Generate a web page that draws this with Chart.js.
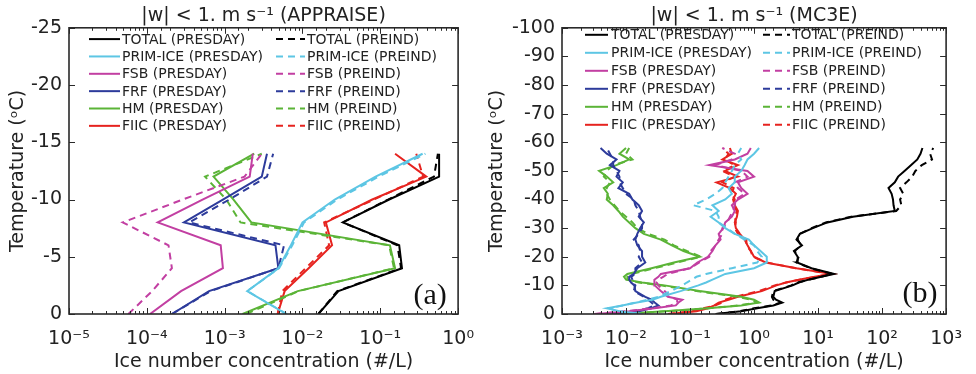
<!DOCTYPE html>
<html>
<head>
<meta charset="utf-8">
<script src="https://cdn.jsdelivr.net/npm/chart.js@4.4.1/dist/chart.umd.min.js"></script>
<style>
html, body { margin: 0; padding: 0; background: #ffffff; }
#page { position: relative; width: 976px; height: 374px; overflow: hidden; }
canvas { position: absolute; top: 0; }
#chartA { left: 0; }
#chartB { left: 488px; }
</style>
</head>
<body>
<div id="page">
  <canvas id="chartA" width="488" height="374"></canvas>
  <canvas id="chartB" width="488" height="374"></canvas>
</div>
<script>
const FONT = '"DejaVu Sans", sans-serif';
const INK = '#222222';

// ---- APPRAISE: ice number concentration (#/L) by temperature level (°C) ----
const apprTemps = [0, -2, -4, -6, -8, -10, -12, -14];
const apprTotalPresday   = [1.6e-2, 2.9e-2, 0.19, 0.175, 3.3e-2, 0.13, 0.57, 0.57];
const apprTotalPreind    = [1.6e-2, 2.8e-2, 0.185, 0.166, 3.3e-2, 0.126, 0.49, 0.55];
const apprPrimIcePresday = [6.2e-3, 1.95e-3, 4.9e-3, 7.1e-3, 1.0e-2, 2.6e-2, 8.7e-2, 0.35];
const apprPrimIcePreind  = [6.3e-3, 1.95e-3, 5.0e-3, 7.4e-3, 1.05e-2, 2.8e-2, 9.5e-2, 0.38];
const apprFsbPresday     = [1.1e-4, 2.75e-4, 9.5e-4, 8.9e-4, 1.38e-4, 5.2e-4, 2.1e-3, 2.3e-3];
const apprFsbPreind      = [5.8e-5, 1.17e-4, 2.1e-4, 1.9e-4, 4.9e-5, 2.9e-4, 1.8e-3, 3.0e-3];
const apprFrfPresday     = [2.1e-4, 6.3e-4, 4.9e-3, 4.5e-3, 3.0e-4, 9.5e-4, 3.0e-3, 3.5e-3];
const apprFrfPreind      = [2.1e-4, 6.6e-4, 4.9e-3, 5.8e-3, 3.5e-4, 1.15e-3, 3.5e-3, 4.2e-3];
const apprHmPresday      = [1.7e-3, 8.7e-3, 0.155, 0.133, 2.2e-3, 1.3e-3, 7.2e-4, 2.4e-3];
const apprHmPreind       = [1.9e-3, 8.9e-3, 0.15, 0.13, 1.6e-3, 1.05e-3, 5.6e-4, 3.0e-3];
const apprFiicPresday    = [4.8e-3, 5.9e-3, 1.2e-2, 2.4e-2, 2.0e-2, 7.9e-2, 0.39, 0.155];
const apprFiicPreind     = [4.8e-3, 5.5e-3, 1.1e-2, 2.2e-2, 1.9e-2, 8.3e-2, 0.355, 0.29];

// ---- MC3E: ice number concentration (#/L) by temperature level (°C) ----
const mc3eTemps = [0, -1, -2, -3, -4, -5, -6, -8, -10, -11, -12, -13, -14, -16, -18, -20, -22, -24, -26, -28,
                   -30, -32, -34, -36, -38, -40, -42, -44, -46, -48, -50, -52, -54, -56, -58];
const mc3eTotalPresday   = [0.25, 0.63, 1.12, 2.0, 2.75, 2.2, 2.0, 2.1, 4.0, 5.0, 7.1, 11.2, 17.8, 7.9, 4.7, 4.8, 4.2, 5.6, 4.6, 5.2,
                            8.3, 14, 35, 158, 151, 148, 141, 126, 158, 178, 224, 282, 355, 398, 427];
const mc3eTotalPreind    = [0.26, 0.6, 1.0, 1.9, 2.6, 2.0, 1.9, 2.0, 3.8, 4.8, 7.1, 11.2, 16.6, 7.6, 4.6, 5.0, 4.3, 5.4, 4.8, 5.2,
                            7.9, 13.2, 33, 166, 200, 191, 214, 191, 240, 295, 331, 417, 603, 562, 631];
const mc3ePrimIcePresday = [0.0178, 0.0079, 0.005, 0.0087, 0.0148, 0.026, 0.035, 0.071, 0.135, 0.178, 0.224, 0.28, 0.355, 1.0, 1.58, 1.58, 1.26, 1.0, 0.83, 0.5,
                            0.355, 0.28, 0.21, 0.28, 0.224, 0.355, 0.45, 0.4, 0.5, 0.5, 0.63, 0.71, 0.79, 1.0, 1.2];
const mc3ePrimIcePreind  = [0.0158, 0.0071, 0.0056, 0.0089, 0.014, 0.022, 0.032, 0.05, 0.076, 0.089, 0.107, 0.126, 0.178, 0.45, 1.12, 1.32, 1.12, 1.0, 0.71, 0.5,
                            0.38, 0.28, 0.28, 0.25, 0.112, 0.178, 0.25, 0.32, 0.355, 0.4, 0.45, 0.5, 0.63, 0.56, 0.63];
const mc3eFsbPresday     = [0.0035, 0.0112, 0.028, 0.06, 0.066, 0.076, 0.045, 0.035, 0.028, 0.0275, 0.028, 0.032, 0.035, 0.1, 0.13, 0.19, 0.224, 0.25, 0.3, 0.28,
                            0.33, 0.355, 0.45, 0.5, 0.45, 0.56, 0.79, 0.63, 0.56, 1.0, 0.79, 0.2, 0.5, 0.79, 0.89];
const mc3eFsbPreind      = [0.0032, 0.01, 0.025, 0.05, 0.063, 0.063, 0.05, 0.04, 0.032, 0.03, 0.032, 0.038, 0.045, 0.1, 0.14, 0.2, 0.21, 0.25, 0.28, 0.32,
                            0.32, 0.38, 0.42, 0.47, 0.5, 0.52, 0.71, 0.56, 0.5, 0.79, 0.63, 0.25, 0.45, 0.5, 0.32];
const mc3eFrfPresday     = [0.0063, 0.0158, 0.025, 0.032, 0.028, 0.025, 0.02, 0.014, 0.0135, 0.012, 0.0112, 0.0112, 0.0132, 0.015, 0.02, 0.0178, 0.0178, 0.015, 0.014, 0.015,
                            0.0166, 0.019, 0.0158, 0.0178, 0.0158, 0.0126, 0.0112, 0.0076, 0.0089, 0.0071, 0.0079, 0.0056, 0.0071, 0.005, 0.004];
const mc3eFrfPreind      = [0.0056, 0.014, 0.022, 0.028, 0.025, 0.022, 0.019, 0.0132, 0.014, 0.0126, 0.0126, 0.012, 0.014, 0.014, 0.0178, 0.0158, 0.0166, 0.0158, 0.0132, 0.0158,
                            0.0178, 0.0178, 0.0166, 0.0158, 0.014, 0.0132, 0.01, 0.0089, 0.0079, 0.0079, 0.0071, 0.0063, 0.0063, 0.0056, 0.005];
const mc3eHmPresday      = [0.0079, 0.04, 0.19, 0.63, 1.2, 1.0, 0.63, 0.141, 0.04, 0.0178, 0.01, 0.0093, 0.0105, 0.025, 0.056, 0.141, 0.079, 0.052, 0.035, 0.019,
                            0.014, 0.0112, 0.0089, 0.0076, 0.0063, 0.005, 0.0052, 0.0045, 0.0063, 0.005, 0.0038, 0.0071, 0.0112, 0.0079, 0.01];
const mc3eHmPreind       = [0.0089, 0.045, 0.2, 0.56, 1.12, 0.89, 0.56, 0.126, 0.035, 0.0158, 0.0105, 0.0105, 0.0126, 0.028, 0.063, 0.15, 0.089, 0.056, 0.04, 0.022,
                            0.015, 0.0126, 0.01, 0.0079, 0.0066, 0.0056, 0.005, 0.005, 0.0056, 0.0045, 0.005, 0.0063, 0.0126, 0.01, 0.0112];
const mc3eFiicPresday    = [0.047, 0.126, 0.19, 0.24, 0.28, 0.40, 0.56, 1.32, 2.24, 3.16, 5.0, 8.9, 16.6, 4.6, 1.51, 1.0, 0.89, 0.79, 0.71, 0.60,
                            0.52, 0.50, 0.54, 0.56, 0.50, 0.47, 0.52, 0.42, 0.26, 0.56, 0.35, 0.56, 0.32, 0.45, 0.42];
const mc3eFiicPreind     = [0.045, 0.11, 0.16, 0.25, 0.32, 0.35, 0.50, 1.2, 2.1, 3.16, 5.2, 8.9, 15.8, 4.5, 1.58, 0.95, 0.89, 0.76, 0.76, 0.56,
                            0.50, 0.52, 0.50, 0.54, 0.47, 0.50, 0.45, 0.48, 0.32, 0.50, 0.32, 0.50, 0.35, 0.40, 0.32];

// ---- series names and colours ----
const processes = ['TOTAL', 'PRIM-ICE', 'FSB', 'FRF', 'HM', 'FIIC'];
const processColors = ['#000000', '#5DC6E4', '#C23FA2', '#2D3B9B', '#5BB437', '#E6231F'];
const PREIND_DASH = [7, 5];

function profile(temps, values) {
  return temps.map((t, i) => ({ x: values[i], y: t }));
}

function buildDatasets(temps, presday, preind) {
  const out = [];
  processes.forEach((p, k) => {
    out.push({ label: p + ' (PRESDAY)', data: profile(temps, presday[k]),
               borderColor: processColors[k], backgroundColor: processColors[k], borderWidth: 2, borderDash: [] });
    out.push({ label: p + ' (PREIND)', data: profile(temps, preind[k]),
               borderColor: processColors[k], backgroundColor: processColors[k], borderWidth: 2, borderDash: PREIND_DASH });
  });
  return out;
}

const SUP = { '-': '\u207B', '0': '\u2070', '1': '\u00B9', '2': '\u00B2', '3': '\u00B3', '4': '\u2074',
              '5': '\u2075', '6': '\u2076', '7': '\u2077', '8': '\u2078', '9': '\u2079' };
function isDecade(v) {
  const e = Math.log10(v);
  return Math.abs(e - Math.round(e)) < 1e-6;
}
function decadeLabel(v) {
  if (!isDecade(v)) return '';
  return '10' + String(Math.round(Math.log10(v))).split('').map(c => SUP[c]).join('');
}

// Box frame with inward ticks, two-column legend and the panel tag
const panelDecor = {
  id: 'panelDecor',
  afterDatasetsDraw(chart, args, opts) {
    const { ctx, chartArea: a, scales: { x, y } } = chart;
    ctx.save();
    ctx.strokeStyle = '#2a2a2a';
    ctx.lineWidth = 1;
    ctx.beginPath();
    x.ticks.forEach(t => {
      const px = Math.round(x.getPixelForValue(t.value)) + 0.5;
      const len = isDecade(t.value) ? 6 : 3;
      ctx.moveTo(px, a.bottom); ctx.lineTo(px, a.bottom - len);
      ctx.moveTo(px, a.top); ctx.lineTo(px, a.top + len);
    });
    y.ticks.forEach(t => {
      const py = Math.round(y.getPixelForValue(t.value)) + 0.5;
      ctx.moveTo(a.left, py); ctx.lineTo(a.left + 6, py);
      ctx.moveTo(a.right, py); ctx.lineTo(a.right - 6, py);
    });
    ctx.stroke();
    ctx.lineWidth = 1.6;
    ctx.strokeRect(a.left, a.top, a.right - a.left, a.bottom - a.top);

    // legend: PRESDAY in the first column, PREIND in the second
    ctx.font = '14px ' + FONT;
    ctx.textBaseline = 'middle';
    ctx.textAlign = 'left';
    chart.data.datasets.forEach((ds, i) => {
      const col = i % 2;
      const row = Math.floor(i / 2);
      const yy = a.top + opts.row0 + row * opts.rowStep;
      const line = col === 0 ? opts.col1Line : opts.col2Line;
      const tx = col === 0 ? opts.col1Text : opts.col2Text;
      ctx.strokeStyle = ds.borderColor;
      ctx.lineWidth = ds.borderWidth;
      ctx.setLineDash(ds.borderDash || []);
      ctx.beginPath();
      ctx.moveTo(a.left + line[0], yy);
      ctx.lineTo(a.left + line[1], yy);
      ctx.stroke();
      ctx.setLineDash([]);
      ctx.fillStyle = INK;
      ctx.fillText(ds.label, a.left + tx, yy + 1);
    });

    ctx.font = '30px "Liberation Serif", serif';
    ctx.textAlign = 'center';
    ctx.fillStyle = '#111111';
    ctx.fillText(opts.tag, a.right + opts.tagX, a.bottom + opts.tagY);
    ctx.restore();
  }
};

function makePanel(id, cfg) {
  return new Chart(document.getElementById(id), {
    type: 'line',
    data: { datasets: cfg.datasets },
    plugins: [panelDecor],
    options: {
      responsive: false,
      animation: false,
      devicePixelRatio: 1,
      elements: { point: { radius: 0, hoverRadius: 0 }, line: { tension: 0, fill: false } },
      layout: { padding: { left: 0, right: cfg.padRight, top: 0, bottom: 0 } },
      plugins: {
        legend: { display: false },
        tooltip: { enabled: false },
        title: {
          display: true, fullSize: false, text: cfg.title, color: INK,
          font: { family: FONT, size: 19, weight: 'normal', lineHeight: 1.2 },
          padding: { top: 5, bottom: 0 }
        },
        panelDecor: cfg.decor
      },
      scales: {
        x: {
          type: 'logarithmic', min: cfg.xMin, max: cfg.xMax,
          grid: { display: false, drawTicks: false }, border: { display: false },
          ticks: { autoSkip: false, maxRotation: 0, minRotation: 0, padding: 14, color: INK,
                   font: { family: FONT, size: 19 }, callback: v => decadeLabel(v) },
          title: { display: true, text: 'Ice number concentration (#/L)', color: INK,
                   font: { family: FONT, size: 19, lineHeight: 1.0 }, padding: { top: 0, bottom: 2.5 } },
          afterFit(s) { s.height = 60; }
        },
        y: {
          type: 'linear', reverse: true, min: cfg.yMin, max: 0,
          grid: { display: false, drawTicks: false }, border: { display: false },
          ticks: { stepSize: cfg.yStep, padding: 7, color: INK, font: { family: FONT, size: 19 } },
          title: { display: true, text: 'Temperature (\u1D52C)', color: INK,
                   font: { family: FONT, size: 19, lineHeight: 1.0 }, padding: { top: cfg.yTitlePad, bottom: 0 } },
          afterFit(s) { s.width = cfg.yWidth; }
        }
      }
    }
  });
}

makePanel('chartA', {
  title: '|w| < 1. m s\u207B\u00B9 (APPRAISE)',
  datasets: buildDatasets(apprTemps,
    [apprTotalPresday, apprPrimIcePresday, apprFsbPresday, apprFrfPresday, apprHmPresday, apprFiicPresday],
    [apprTotalPreind, apprPrimIcePreind, apprFsbPreind, apprFrfPreind, apprHmPreind, apprFiicPreind]),
  xMin: 1e-5, xMax: 1, yMin: -25, yStep: 5,
  yWidth: 69, padRight: 20, yTitlePad: 8.5,
  decor: { col1Line: [20, 51], col1Text: 53, col2Line: [207, 236], col2Text: 238,
           row0: 11.3, rowStep: 17.35, tag: '(a)', tagX: -28, tagY: -18 }
});

makePanel('chartB', {
  title: '|w| < 1. m s\u207B\u00B9 (MC3E)',
  datasets: buildDatasets(mc3eTemps,
    [mc3eTotalPresday, mc3ePrimIcePresday, mc3eFsbPresday, mc3eFrfPresday, mc3eHmPresday, mc3eFiicPresday],
    [mc3eTotalPreind, mc3ePrimIcePreind, mc3eFsbPreind, mc3eFrfPreind, mc3eHmPreind, mc3eFiicPreind]),
  xMin: 1e-3, xMax: 1e3, yMin: -100, yStep: 10,
  yWidth: 74, padRight: 25, yTitlePad: 0,
  decor: { col1Line: [23, 46], col1Text: 49, col2Line: [201, 228], col2Text: 230,
           row0: 7, rowStep: 18, tag: '(b)', tagX: -26, tagY: -20 }
});
</script>
</body>
</html>
